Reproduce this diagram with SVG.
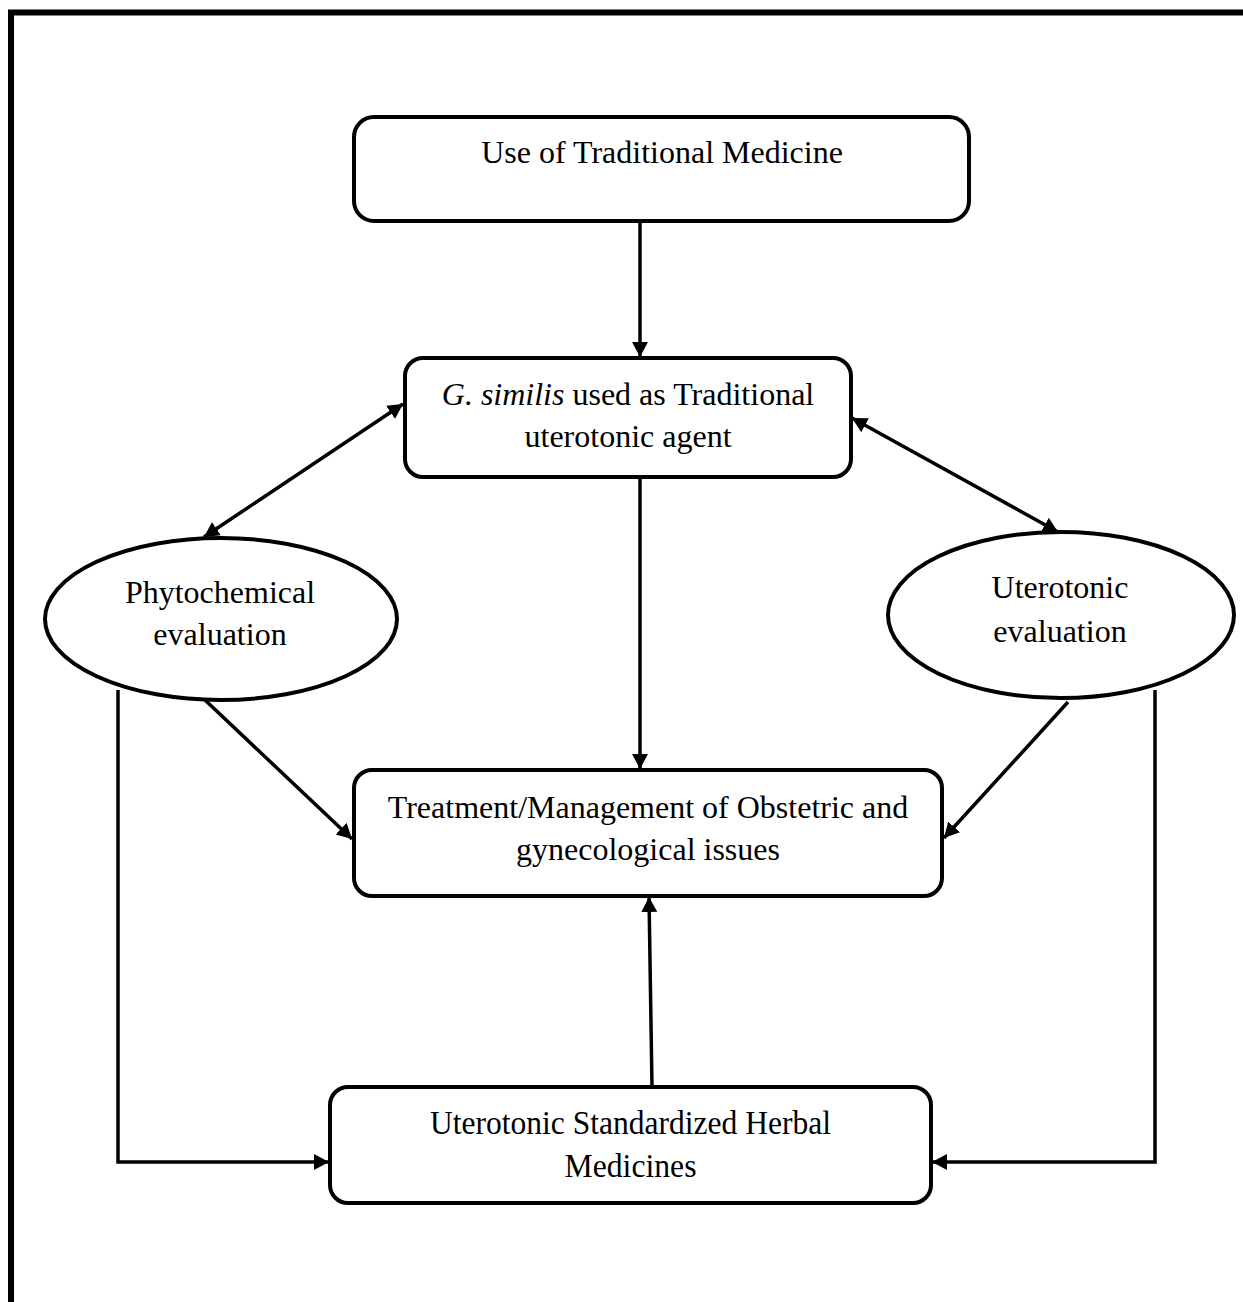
<svg xmlns="http://www.w3.org/2000/svg" width="1243" height="1302" viewBox="0 0 1243 1302">
<style>
.node{fill:#fff;stroke:#000;stroke-width:4}
.t{font-family:"Liberation Serif","Times New Roman",serif;font-size:32px;fill:#000;text-anchor:middle}
.c{fill:none;stroke:#000;stroke-width:3.5}
.arr{marker-end:url(#ah)}
.both{marker-start:url(#ah);marker-end:url(#ah)}
</style>
<defs>
<marker id="ah" markerUnits="userSpaceOnUse" markerWidth="18" markerHeight="18" refX="15" refY="8" orient="auto-start-reverse">
<path d="M0,0 L15,8 L0,16 z" fill="#000"/>
</marker>
</defs>
<rect width="1243" height="1302" fill="#fff"/>
<path d="M11,1302 V12.5 H1243" fill="none" stroke="#000" stroke-width="6"/>

<g id="connectors">
<line class="c arr" x1="640" y1="221" x2="640" y2="357"/>
<line class="c both" x1="403" y1="404" x2="204" y2="537"/>
<line class="c both" x1="852" y1="418" x2="1058" y2="532"/>
<line class="c arr" x1="640" y1="477" x2="640" y2="769"/>
<line class="c arr" x1="205" y1="700" x2="352" y2="839"/>
<line class="c arr" x1="1068" y1="702" x2="944" y2="838"/>
<line class="c arr" x1="652" y1="1087" x2="649" y2="897"/>
<path class="c arr" d="M118,690 V1162 H329"/>
<path class="c arr" d="M1155,690 V1162 H932"/>
</g>

<g id="n1">
<rect class="node" x="354" y="117" width="615" height="104" rx="20"/>
<text class="t" x="662" y="163">Use of Traditional Medicine</text>
</g>

<g id="n2">
<rect class="node" x="405" y="358" width="446" height="119" rx="18"/>
<text class="t" x="628" y="405"><tspan font-style="italic">G. similis</tspan> used as Traditional</text>
<text class="t" x="628" y="447">uterotonic agent</text>
</g>

<g id="n3">
<ellipse class="node" cx="221" cy="619" rx="176" ry="81"/>
<text class="t" x="220" y="603">Phytochemical</text>
<text class="t" x="220" y="645">evaluation</text>
</g>

<g id="n4">
<ellipse class="node" cx="1061" cy="615" rx="173" ry="83"/>
<text class="t" x="1060" y="598">Uterotonic</text>
<text class="t" x="1060" y="642">evaluation</text>
</g>

<g id="n5">
<rect class="node" x="354" y="770" width="588" height="126" rx="18"/>
<text class="t" x="648" y="818">Treatment/Management of Obstetric and</text>
<text class="t" x="648" y="860">gynecological issues</text>
</g>

<g id="n6">
<rect class="node" x="330" y="1087" width="601" height="116" rx="18"/>
<text class="t" x="630.5" y="1134" style="font-size:34px" textLength="401" lengthAdjust="spacingAndGlyphs">Uterotonic Standardized Herbal</text>
<text class="t" x="630.5" y="1177" style="font-size:34px" textLength="132" lengthAdjust="spacingAndGlyphs">Medicines</text>
</g>
</svg>
